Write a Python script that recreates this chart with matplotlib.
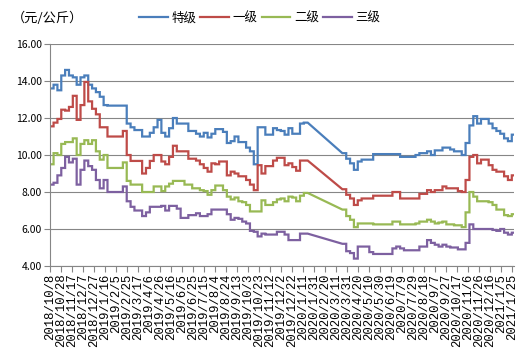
"""
Preço semanal por grau (特级/一级/二级/三级), 2018/10 - 2021/1
"""

import matplotlib
matplotlib.use('Agg')
import matplotlib.pyplot as plt
import pandas as pd

plt.rcParams['font.family'] = ['Noto Sans CJK SC', 'DejaVu Sans']

# ============================================================================
# DADOS (leituras semanais, None = sem dados)
# ============================================================================

start_date = '2018-10-08'
n_weeks = 121
week_dates = pd.date_range(start_date, periods=n_weeks, freq='7D')

series_names = ['特级', '一级', '二级', '三级']

special = [13.6, 13.8, 13.5, 14.3, 14.6, 14.3, 14.2, 13.8, 14.2, 14.3,
           13.8, 13.6, 13.4, 13.15, 12.7, 12.67, 12.67, 12.67, 12.67, 12.67,
           11.7, 11.5, 11.35, 11.35, 11.0, 11.0, 11.2, 11.5, 11.9, 11.2,
           11.0, 11.45, 12.0, 11.7, 11.7, 11.7, 11.3, 11.3, 11.15, 11.0,
           11.2, 10.95, 11.15, 11.4, 11.4, 11.25, 10.65, 10.75, 11.0, 10.7,
           10.7, 10.4, 10.2, 9.5, 11.5, 11.5, 11.1, 11.1, 11.45, 11.35,
           11.3, 11.1, 11.45, 11.15, 11.15, 11.7, 11.75, 11.75,
           None, None, None, None, None, None, None, None,
           10.1, 9.8, 9.55, 9.2, 9.65, 9.75, 9.75, 9.75, 10.05, 10.05,
           10.05, 10.05, 10.05, 10.05, 10.05, 9.9, 9.9, 9.9, 9.9, 10.0,
           10.1, 10.1, 10.2, 10.0, 10.25, 10.25, 10.4, 10.4, 10.3, 10.2,
           10.2, 10.0, 10.65, 11.6, 12.1, 11.7, 11.95, 11.95, 11.7, 11.45,
           11.3, 11.15, 10.9, 10.75, 11.1]

grade1 = [11.55, 11.75, 11.95, 12.45, 12.4, 12.6, 13.2, 11.9, 12.7, 13.95,
          12.9, 12.5, 12.2, 11.5, 11.5, 11.0, 11.0, 11.0, 11.0, 11.3,
          10.0, 9.68, 9.68, 9.68, 9.0, 9.3, 9.68, 10.0, 10.0, 9.65,
          9.5, 9.9, 10.5, 10.2, 10.2, 10.2, 9.8, 9.8, 9.7, 9.5,
          9.3, 9.1, 9.55, 9.5, 9.65, 9.65, 8.9, 9.1, 9.0, 8.85,
          8.85, 8.65, 8.4, 8.1, 9.45, 9.0, 9.4, 9.4, 9.7, 9.85,
          9.85, 9.45, 9.55, 9.35, 9.15, 9.7, 9.7, 9.7,
          None, None, None, None, None, None, None, None,
          8.15, 7.85, 7.65, 7.3, 7.55, 7.65, 7.65, 7.65, 7.8, 7.8,
          7.8, 7.8, 7.8, 8.0, 8.0, 7.65, 7.65, 7.65, 7.65, 7.65,
          7.9, 7.9, 8.1, 8.0, 8.1, 8.1, 8.3, 8.2, 8.2, 8.2,
          8.05, 8.0, 8.65, 9.9, 10.0, 9.55, 9.75, 9.75, 9.45, 9.2,
          9.1, 9.1, 8.85, 8.65, 8.9]

grade2 = [9.5, 10.1, 10.0, 10.6, 10.7, 10.7, 10.9, 10.0, 10.6, 10.8,
          10.6, 10.8, 10.2, 9.75, 10.0, 9.3, 9.3, 9.3, 9.3, 9.6,
          8.6, 8.4, 8.4, 8.4, 8.0, 8.0, 8.0, 8.3, 8.3, 8.05,
          8.3, 8.45, 8.6, 8.6, 8.6, 8.4, 8.4, 8.2, 8.2, 8.1,
          8.05, 7.85, 8.1, 8.35, 8.35, 8.1, 7.75, 7.6, 7.7, 7.5,
          7.45, 7.3, 6.95, 6.95, 6.95, 7.55, 7.3, 7.3, 7.45, 7.6,
          7.65, 7.5, 7.75, 7.7, 7.5, 7.8, 7.95, 7.95,
          None, None, None, None, None, None, None, None,
          7.05, 6.7, 6.5, 6.1, 6.3, 6.3, 6.3, 6.3, 6.25, 6.25,
          6.25, 6.25, 6.25, 6.4, 6.4, 6.25, 6.25, 6.25, 6.25, 6.3,
          6.4, 6.4, 6.5, 6.4, 6.3, 6.35, 6.4, 6.25, 6.25, 6.2,
          6.2, 6.1, 6.9, 8.0, 7.75, 7.5, 7.5, 7.5, 7.45, 7.3,
          7.05, 7.05, 6.75, 6.7, 6.8]

grade3 = [8.4, 8.5, 8.9, 9.3, 9.9, 9.6, 9.8, 8.4, 9.2, 9.7,
          9.4, 9.2, 8.65, 8.2, 8.65, 8.0, 8.0, 8.0, 8.0, 8.3,
          7.5, 7.2, 7.0, 7.0, 6.7, 6.9, 7.2, 7.2, 7.2, 7.25,
          7.0, 7.25, 7.25, 7.1, 6.6, 6.6, 6.75, 6.75, 6.85, 6.7,
          6.7, 6.8, 7.05, 7.05, 7.05, 7.05, 6.8, 6.5, 6.6, 6.55,
          6.4, 6.3, 5.9, 5.85, 5.6, 5.75, 5.7, 5.7, 5.7, 5.85,
          5.85, 5.7, 5.4, 5.4, 5.4, 5.75, 5.75, 5.75,
          None, None, None, None, None, None, None, None,
          5.2, 4.8, 4.7, 4.4, 5.05, 5.05, 5.05, 4.75, 4.65, 4.65,
          4.65, 4.65, 4.65, 4.95, 5.05, 4.95, 4.85, 4.85, 4.85, 4.85,
          5.05, 5.05, 5.4, 5.25, 5.15, 5.05, 5.15, 5.05, 5.0, 5.0,
          4.9, 4.9, 5.25, 6.25, 6.0, 6.0, 6.0, 6.0, 6.0, 5.95,
          5.9, 6.0, 5.8, 5.7, 5.8]

colors = ['#4A7EBB', '#BE4B48', '#98B954', '#7D60A0']

# ============================================================================
# FUNÇÕES
# ============================================================================

def step_path(days, values, end_day):
    """Degraus entre semanas seguidas, linha reta por cima das lacunas."""
    pts = [(d, v) for d, v in zip(days, values) if v is not None]
    idx = [i for i, v in enumerate(values) if v is not None]
    px, py = [pts[0][0]], [pts[0][1]]
    for k in range(1, len(pts)):
        d, v = pts[k]
        if idx[k] == idx[k - 1] + 1:
            px += [d, d]
            py += [py[-1], v]
        else:
            px.append(d)
            py.append(v)
    px.append(end_day)
    py.append(py[-1])
    return px, py


# ============================================================================
# GRÁFICO
# ============================================================================

day0 = week_dates[0]
days = [(d - day0).days for d in week_dates]
x_end = 844

fig = plt.figure(figsize=(5.3, 3.54), dpi=100)
ax = fig.add_axes([0.0938, 0.2486, 0.876, 0.627])

handles = []
for name, vals, c in zip(series_names, [special, grade1, grade2, grade3], colors):
    px, py = step_path(days, vals, x_end)
    line, = ax.plot(px, py, color=c, lw=1.6, label=name, solid_joinstyle='miter')
    handles.append(line)

ax.set_xlim(0, x_end)
ax.set_ylim(4, 16)
ax.set_yticks(range(4, 17, 2))
ax.set_yticklabels([f'{v:.2f}' for v in range(4, 17, 2)], fontsize=7.5)
ax.grid(axis='y', color='#868686', lw=0.8)
ax.set_axisbelow(True)

tick_days = list(range(0, 841, 20))
tick_labels = []
for t in tick_days:
    d = day0 + pd.Timedelta(days=t)
    tick_labels.append(f'{d.year}/{d.month}/{d.day}')
ax.set_xticks(tick_days)
ax.set_xticklabels(tick_labels, rotation=90, fontsize=8.8, family='Liberation Mono',
                   ha='center', va='top')

for s in ['top', 'right']:
    ax.spines[s].set_visible(False)
for s in ['left', 'bottom']:
    ax.spines[s].set_color('#868686')
    ax.spines[s].set_linewidth(0.8)
ax.tick_params(axis='both', direction='out', length=4, width=0.8, color='#868686', pad=1.5)

fig.text(0.022, 0.949, '（元/公斤）', fontsize=9.5, ha='left', va='center')
fig.legend(handles, series_names, loc='center', bbox_to_anchor=(0.49, 0.949),
           ncol=4, frameon=False, fontsize=9, handlelength=2.3,
           handletextpad=0.3, columnspacing=0.3)

fig.savefig('out.png', dpi=100)
